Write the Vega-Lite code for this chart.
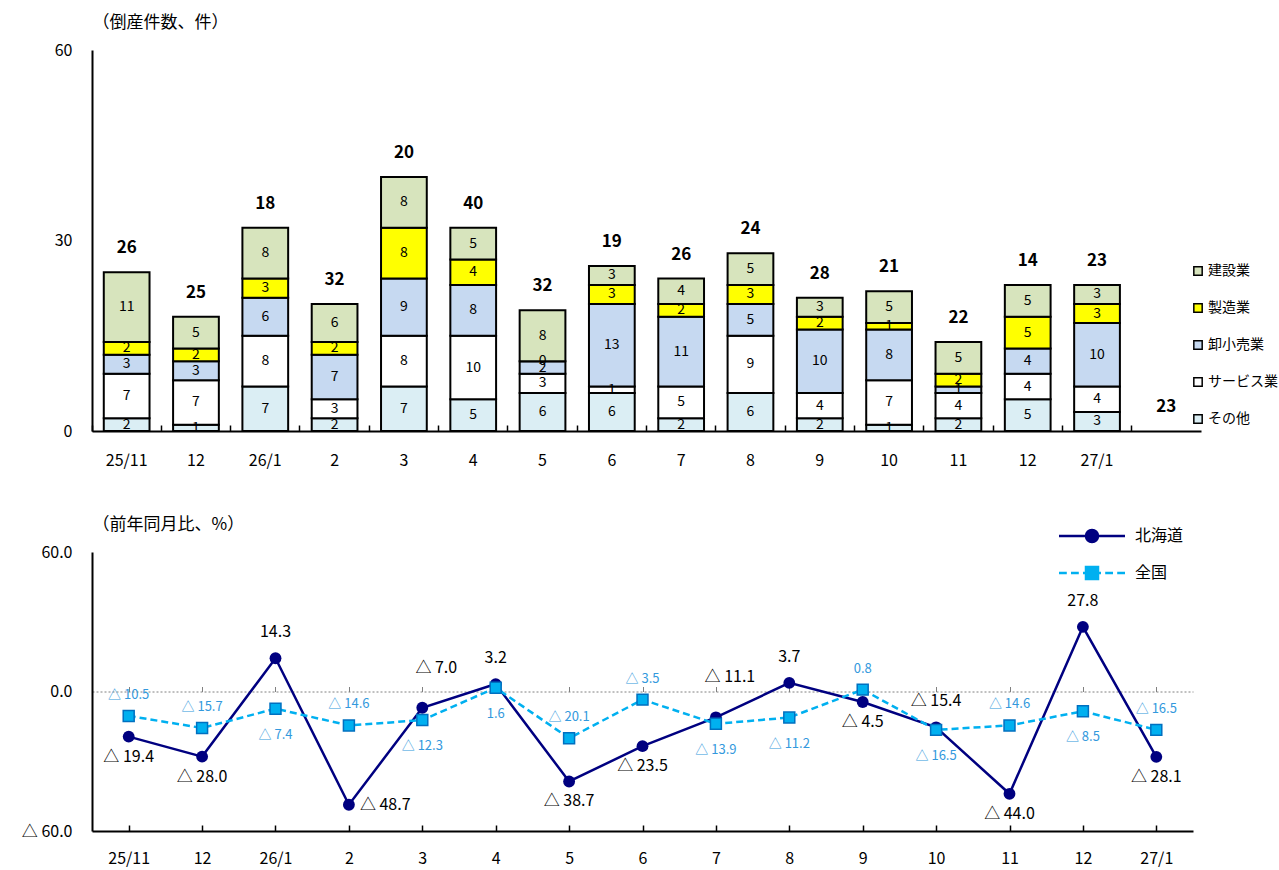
{
  "$schema": "https://vega.github.io/schema/vega-lite/v6.json",
  "padding": {"top": 13, "left": 21, "right": 0, "bottom": 5},
  "config": {
    "font": "Noto Sans CJK JP",
    "view": {"stroke": null},
    "axis": {"labelColor": "#000000", "titleColor": "#000000", "grid": false}
  },
  "datasets": {
    "segments": [
      {"month": "25/11", "industry": "その他", "count": 2}, {"month": "25/11", "industry": "サービス業", "count": 7}, {"month": "25/11", "industry": "卸小売業", "count": 3}, {"month": "25/11", "industry": "製造業", "count": 2}, {"month": "25/11", "industry": "建設業", "count": 11},
      {"month": "25/12", "industry": "その他", "count": 1}, {"month": "25/12", "industry": "サービス業", "count": 7}, {"month": "25/12", "industry": "卸小売業", "count": 3}, {"month": "25/12", "industry": "製造業", "count": 2}, {"month": "25/12", "industry": "建設業", "count": 5},
      {"month": "26/1", "industry": "その他", "count": 7}, {"month": "26/1", "industry": "サービス業", "count": 8}, {"month": "26/1", "industry": "卸小売業", "count": 6}, {"month": "26/1", "industry": "製造業", "count": 3}, {"month": "26/1", "industry": "建設業", "count": 8},
      {"month": "26/2", "industry": "その他", "count": 2}, {"month": "26/2", "industry": "サービス業", "count": 3}, {"month": "26/2", "industry": "卸小売業", "count": 7}, {"month": "26/2", "industry": "製造業", "count": 2}, {"month": "26/2", "industry": "建設業", "count": 6},
      {"month": "26/3", "industry": "その他", "count": 7}, {"month": "26/3", "industry": "サービス業", "count": 8}, {"month": "26/3", "industry": "卸小売業", "count": 9}, {"month": "26/3", "industry": "製造業", "count": 8}, {"month": "26/3", "industry": "建設業", "count": 8},
      {"month": "26/4", "industry": "その他", "count": 5}, {"month": "26/4", "industry": "サービス業", "count": 10}, {"month": "26/4", "industry": "卸小売業", "count": 8}, {"month": "26/4", "industry": "製造業", "count": 4}, {"month": "26/4", "industry": "建設業", "count": 5},
      {"month": "26/5", "industry": "その他", "count": 6}, {"month": "26/5", "industry": "サービス業", "count": 3}, {"month": "26/5", "industry": "卸小売業", "count": 2}, {"month": "26/5", "industry": "製造業", "count": 0}, {"month": "26/5", "industry": "建設業", "count": 8},
      {"month": "26/6", "industry": "その他", "count": 6}, {"month": "26/6", "industry": "サービス業", "count": 1}, {"month": "26/6", "industry": "卸小売業", "count": 13}, {"month": "26/6", "industry": "製造業", "count": 3}, {"month": "26/6", "industry": "建設業", "count": 3},
      {"month": "26/7", "industry": "その他", "count": 2}, {"month": "26/7", "industry": "サービス業", "count": 5}, {"month": "26/7", "industry": "卸小売業", "count": 11}, {"month": "26/7", "industry": "製造業", "count": 2}, {"month": "26/7", "industry": "建設業", "count": 4},
      {"month": "26/8", "industry": "その他", "count": 6}, {"month": "26/8", "industry": "サービス業", "count": 9}, {"month": "26/8", "industry": "卸小売業", "count": 5}, {"month": "26/8", "industry": "製造業", "count": 3}, {"month": "26/8", "industry": "建設業", "count": 5},
      {"month": "26/9", "industry": "その他", "count": 2}, {"month": "26/9", "industry": "サービス業", "count": 4}, {"month": "26/9", "industry": "卸小売業", "count": 10}, {"month": "26/9", "industry": "製造業", "count": 2}, {"month": "26/9", "industry": "建設業", "count": 3},
      {"month": "26/10", "industry": "その他", "count": 1}, {"month": "26/10", "industry": "サービス業", "count": 7}, {"month": "26/10", "industry": "卸小売業", "count": 8}, {"month": "26/10", "industry": "製造業", "count": 1}, {"month": "26/10", "industry": "建設業", "count": 5},
      {"month": "26/11", "industry": "その他", "count": 2}, {"month": "26/11", "industry": "サービス業", "count": 4}, {"month": "26/11", "industry": "卸小売業", "count": 1}, {"month": "26/11", "industry": "製造業", "count": 2}, {"month": "26/11", "industry": "建設業", "count": 5},
      {"month": "26/12", "industry": "その他", "count": 5}, {"month": "26/12", "industry": "サービス業", "count": 4}, {"month": "26/12", "industry": "卸小売業", "count": 4}, {"month": "26/12", "industry": "製造業", "count": 5}, {"month": "26/12", "industry": "建設業", "count": 5},
      {"month": "27/1", "industry": "その他", "count": 3}, {"month": "27/1", "industry": "サービス業", "count": 4}, {"month": "27/1", "industry": "卸小売業", "count": 10}, {"month": "27/1", "industry": "製造業", "count": 3}, {"month": "27/1", "industry": "建設業", "count": 3}
    ],
    "totals": [
      {"month": "25/11", "label": 26, "total": 25}, {"month": "25/12", "label": 25, "total": 18},
      {"month": "26/1", "label": 18, "total": 32}, {"month": "26/2", "label": 32, "total": 20},
      {"month": "26/3", "label": 20, "total": 40}, {"month": "26/4", "label": 40, "total": 32},
      {"month": "26/5", "label": 32, "total": 19}, {"month": "26/6", "label": 19, "total": 26},
      {"month": "26/7", "label": 26, "total": 24}, {"month": "26/8", "label": 24, "total": 28},
      {"month": "26/9", "label": 28, "total": 21}, {"month": "26/10", "label": 21, "total": 22},
      {"month": "26/11", "label": 22, "total": 14}, {"month": "26/12", "label": 14, "total": 23},
      {"month": "27/1", "label": 23, "total": 23}, {"month": "_", "label": 23, "total": 0}
    ],
    "lines": [
      {"month": "25/11", "series": "北海道", "value": -19.4, "label": "△ 19.4"},
      {"month": "25/12", "series": "北海道", "value": -28.0, "label": "△ 28.0"},
      {"month": "26/1", "series": "北海道", "value": 14.3, "label": "14.3"},
      {"month": "26/2", "series": "北海道", "value": -48.7, "label": "△ 48.7"},
      {"month": "26/3", "series": "北海道", "value": -7.0, "label": "△ 7.0"},
      {"month": "26/4", "series": "北海道", "value": 3.2, "label": "3.2"},
      {"month": "26/5", "series": "北海道", "value": -38.7, "label": "△ 38.7"},
      {"month": "26/6", "series": "北海道", "value": -23.5, "label": "△ 23.5"},
      {"month": "26/7", "series": "北海道", "value": -11.1, "label": "△ 11.1"},
      {"month": "26/8", "series": "北海道", "value": 3.7, "label": "3.7"},
      {"month": "26/9", "series": "北海道", "value": -4.5, "label": "△ 4.5"},
      {"month": "26/10", "series": "北海道", "value": -15.4, "label": "△ 15.4"},
      {"month": "26/11", "series": "北海道", "value": -44.0, "label": "△ 44.0"},
      {"month": "26/12", "series": "北海道", "value": 27.8, "label": "27.8"},
      {"month": "27/1", "series": "北海道", "value": -28.1, "label": "△ 28.1"},
      {"month": "25/11", "series": "全国", "value": -10.5, "label": "△ 10.5"},
      {"month": "25/12", "series": "全国", "value": -15.7, "label": "△ 15.7"},
      {"month": "26/1", "series": "全国", "value": -7.4, "label": "△ 7.4"},
      {"month": "26/2", "series": "全国", "value": -14.6, "label": "△ 14.6"},
      {"month": "26/3", "series": "全国", "value": -12.3, "label": "△ 12.3"},
      {"month": "26/4", "series": "全国", "value": 1.6, "label": "1.6"},
      {"month": "26/5", "series": "全国", "value": -20.1, "label": "△ 20.1"},
      {"month": "26/6", "series": "全国", "value": -3.5, "label": "△ 3.5"},
      {"month": "26/7", "series": "全国", "value": -13.9, "label": "△ 13.9"},
      {"month": "26/8", "series": "全国", "value": -11.2, "label": "△ 11.2"},
      {"month": "26/9", "series": "全国", "value": 0.8, "label": "0.8"},
      {"month": "26/10", "series": "全国", "value": -16.5, "label": "△ 16.5"},
      {"month": "26/11", "series": "全国", "value": -14.6, "label": "△ 14.6"},
      {"month": "26/12", "series": "全国", "value": -8.5, "label": "△ 8.5"},
      {"month": "27/1", "series": "全国", "value": -16.5, "label": "△ 16.5"}
    ]
  },
  "vconcat": [
    {
      "width": 1109,
      "height": 381,
      "resolve": {"axis": {"x": "independent"}},
      "layer": [
        {
          "data": {"name": "segments"},
          "transform": [{"calculate": "indexof(['その他','サービス業','卸小売業','製造業','建設業'], datum.industry)", "as": "stackOrder"}],
          "mark": {"type": "bar", "width": {"band": 0.66}, "stroke": "#000000", "strokeWidth": 2},
          "encoding": {
            "x": {
              "field": "month", "type": "nominal",
              "scale": {"domain": ["25/11","25/12","26/1","26/2","26/3","26/4","26/5","26/6","26/7","26/8","26/9","26/10","26/11","26/12","27/1","_"], "paddingInner": 0, "paddingOuter": 0},
              "axis": {
                "title": null, "labelAngle": 0, "ticks": false,
                "domainColor": "#000000", "domainWidth": 2,
                "labelFontSize": 16, "labelPadding": 21,
                "labelExpr": "datum.value == '_' ? '' : (indexof(['25/11','26/1','27/1'], datum.value) >= 0 ? datum.value : split(datum.value, '/')[1])"
              }
            },
            "y": {
              "field": "count", "type": "quantitative", "stack": "zero",
              "scale": {"domain": [0, 60]},
              "axis": {
                "values": [0, 30, 60], "ticks": false, "grid": false,
                "domainColor": "#000000", "domainWidth": 2,
                "labelFontSize": 16, "labelPadding": 20,
                "title": "（倒産件数、件）", "titleAngle": 0, "titleAlign": "left", "titleBaseline": "middle",
                "titleX": 0, "titleY": -28, "titleFontSize": 17, "titleFontWeight": "normal"
              }
            },
            "order": {"field": "stackOrder", "type": "quantitative", "sort": "ascending"},
            "color": {
              "field": "industry", "type": "nominal",
              "scale": {"domain": ["建設業", "製造業", "卸小売業", "サービス業", "その他"], "range": ["#d7e4bd", "#ffff00", "#c6d9f1", "#ffffff", "#dbeef4"]},
              "legend": {
                "title": null, "orient": "none", "legendX": 1099, "legendY": 214,
                "symbolType": "square", "symbolSize": 70, "symbolStrokeColor": "#000000", "symbolStrokeWidth": 1.5,
                "labelFontSize": 14, "labelColor": "#000000", "rowPadding": 21, "labelOffset": 3
              }
            }
          }
        },
        {
          "data": {"name": "segments"},
          "transform": [{"calculate": "indexof(['その他','サービス業','卸小売業','製造業','建設業'], datum.industry)", "as": "stackOrder"}],
          "mark": {"type": "text", "fontSize": 14, "baseline": "middle", "color": "#000000"},
          "encoding": {
            "x": {
              "field": "month", "type": "nominal",
              "axis": {
                "orient": "top", "offset": -381, "title": null, "labels": false, "domain": false,
                "bandPosition": 0, "tickSize": 6, "tickColor": "#000000", "tickWidth": 1.5
              }
            },
            "y": {"field": "count", "type": "quantitative", "stack": "zero", "bandPosition": 0.5},
            "order": {"field": "stackOrder", "type": "quantitative", "sort": "ascending"},
            "text": {"field": "count", "type": "quantitative"}
          }
        },
        {
          "data": {"name": "totals"},
          "mark": {"type": "text", "fontSize": 17, "fontWeight": "bold", "baseline": "middle", "dy": -24, "color": "#000000"},
          "encoding": {
            "x": {"field": "month", "type": "nominal", "axis": null},
            "y": {"field": "total", "type": "quantitative"},
            "text": {"field": "label", "type": "quantitative"}
          }
        }
      ]
    },
    {
      "width": 1101,
      "height": 279,
      "data": {"name": "lines"},
      "resolve": {"axis": {"x": "independent"}},
      "layer": [
        {
          "transform": [{"filter": "datum.series == '北海道'"}],
          "mark": {"type": "line", "color": "#000080", "strokeWidth": 2.5},
          "encoding": {
            "x": {
              "field": "month", "type": "nominal",
              "scale": {"domain": ["25/11","25/12","26/1","26/2","26/3","26/4","26/5","26/6","26/7","26/8","26/9","26/10","26/11","26/12","27/1"], "paddingInner": 0, "paddingOuter": 0},
              "axis": {
                "title": null, "labelAngle": 0, "ticks": false,
                "domainColor": "#000000", "domainWidth": 2,
                "labelFontSize": 16, "labelPadding": 19,
                "labelExpr": "indexof(['25/11','26/1','27/1'], datum.value) >= 0 ? datum.value : split(datum.value, '/')[1]"
              }
            },
            "y": {
              "field": "value", "type": "quantitative",
              "scale": {"domain": [-60, 60]},
              "axis": {
                "values": [-60, 0, 60], "ticks": false, "grid": false,
                "domainColor": "#000000", "domainWidth": 2,
                "labelFontSize": 16, "labelPadding": 20,
                "labelExpr": "datum.value < 0 ? '△ ' + format(-datum.value, '.1f') : format(datum.value, '.1f')",
                "title": "（前年同月比、%）", "titleAngle": 0, "titleAlign": "left", "titleBaseline": "middle",
                "titleX": 0, "titleY": -28, "titleFontSize": 17, "titleFontWeight": "normal"
              }
            }
          }
        },
        {
          "transform": [{"filter": "datum.series == '全国'"}],
          "mark": {"type": "line", "color": "#00b0f0", "strokeWidth": 2.5, "strokeDash": [7, 4]},
          "encoding": {
            "x": {
              "field": "month", "type": "nominal",
              "axis": {
                "orient": "top", "offset": -139.5, "title": null, "labels": false,
                "bandPosition": 0, "tickSize": 5, "tickColor": "#808080", "tickWidth": 1,
                "domainColor": "#808080", "domainWidth": 1, "domainDash": [2, 2]
              }
            },
            "y": {"field": "value", "type": "quantitative"}
          }
        },
        {
          "transform": [{"filter": "datum.series == '北海道'"}],
          "mark": {"type": "point", "shape": "circle", "filled": true, "size": 140, "color": "#000080", "opacity": 1},
          "encoding": {
            "x": {
              "field": "month", "type": "nominal",
              "axis": {
                "orient": "top", "offset": -279, "title": null, "labels": false, "domain": false,
                "bandPosition": 0, "tickSize": 6, "tickColor": "#000000", "tickWidth": 1.5
              }
            },
            "y": {"field": "value", "type": "quantitative"}
          }
        },
        {
          "transform": [{"filter": "datum.series == '全国'"}],
          "mark": {"type": "point", "shape": "square", "filled": true, "size": 120, "color": "#00b0f0", "stroke": "#0070c0", "strokeWidth": 1.5, "opacity": 1},
          "encoding": {
            "x": {"field": "month", "type": "nominal", "axis": null},
            "y": {"field": "value", "type": "quantitative"}
          }
        },
        {
          "transform": [{"filter": "datum.series == '北海道' && indexof(['26/1','26/4','26/8','26/10','26/12'], datum.month) >= 0"}],
          "mark": {"type": "text", "fontSize": 16, "color": "#000000", "baseline": "middle", "dy": -26},
          "encoding": {
            "x": {"field": "month", "type": "nominal", "axis": null},
            "y": {"field": "value", "type": "quantitative"},
            "text": {"field": "label"}
          }
        },
        {
          "transform": [{"filter": "datum.series == '北海道' && indexof(['26/3','26/7'], datum.month) >= 0"}],
          "mark": {"type": "text", "fontSize": 16, "color": "#000000", "baseline": "middle", "dy": -40, "dx": 14},
          "encoding": {
            "x": {"field": "month", "type": "nominal", "axis": null},
            "y": {"field": "value", "type": "quantitative"},
            "text": {"field": "label"}
          }
        },
        {
          "transform": [{"filter": "datum.series == '北海道' && indexof(['25/11','25/12','26/5','26/6','26/9','26/11','27/1'], datum.month) >= 0"}],
          "mark": {"type": "text", "fontSize": 16, "color": "#000000", "baseline": "middle", "dy": 20},
          "encoding": {
            "x": {"field": "month", "type": "nominal", "axis": null},
            "y": {"field": "value", "type": "quantitative"},
            "text": {"field": "label"}
          }
        },
        {
          "transform": [{"filter": "datum.series == '北海道' && datum.month == '26/2'"}],
          "mark": {"type": "text", "fontSize": 16, "color": "#000000", "baseline": "middle", "align": "left", "dx": 11},
          "encoding": {
            "x": {"field": "month", "type": "nominal", "axis": null},
            "y": {"field": "value", "type": "quantitative"},
            "text": {"field": "label"}
          }
        },
        {
          "transform": [{"filter": "datum.series == '全国' && indexof(['25/11','25/12','26/2','26/5','26/6','26/9','26/11','27/1'], datum.month) >= 0"}],
          "mark": {"type": "text", "fontSize": 13, "color": "#3399dd", "baseline": "middle", "dy": -21},
          "encoding": {
            "x": {"field": "month", "type": "nominal", "axis": null},
            "y": {"field": "value", "type": "quantitative"},
            "text": {"field": "label"}
          }
        },
        {
          "transform": [{"filter": "datum.series == '全国' && indexof(['26/1','26/3','26/4','26/7','26/8','26/10','26/12'], datum.month) >= 0"}],
          "mark": {"type": "text", "fontSize": 13, "color": "#3399dd", "baseline": "middle", "dy": 26},
          "encoding": {
            "x": {"field": "month", "type": "nominal", "axis": null},
            "y": {"field": "value", "type": "quantitative"},
            "text": {"field": "label"}
          }
        },
        {
          "transform": [{"filter": "false"}],
          "mark": {"type": "point", "filled": true, "strokeWidth": 2.5, "opacity": 1},
          "encoding": {
            "x": {"field": "month", "type": "nominal", "axis": null},
            "y": {"field": "value", "type": "quantitative"},
            "fill": {"field": "series", "type": "nominal", "scale": {"domain": ["北海道", "全国"], "range": ["#000080", "#00b0f0"]}, "legend": {"title": null}},
            "stroke": {"field": "series", "type": "nominal", "scale": {"domain": ["北海道", "全国"], "range": ["#000080", "#00b0f0"]}, "legend": {"title": null}},
            "shape": {
              "field": "series", "type": "nominal",
              "scale": {"domain": ["北海道", "全国"], "range": [
                "M-5.5,0L5.5,0M1,0A1,1,0,1,1,-1,0A1,1,0,1,1,1,0Z",
                "M-5.5,0L-4.2,0M-3.5,0L-2.2,0M-1.5,0L-1,0M1,0L1.5,0M2.2,0L3.5,0M4.2,0L5.5,0M-1,-1L1,-1L1,1L-1,1Z"
              ]},
              "legend": {
                "title": null, "orient": "none", "legendX": 992, "legendY": 478,
                "symbolSize": 144, "symbolStrokeWidth": 2.5, "symbolOpacity": 1, "labelFontSize": 16, "labelColor": "#000000",
                "labelOffset": 35, "rowPadding": 15
              }
            }
          }
        }
      ]
    }
  ],
  "spacing": 47
}
